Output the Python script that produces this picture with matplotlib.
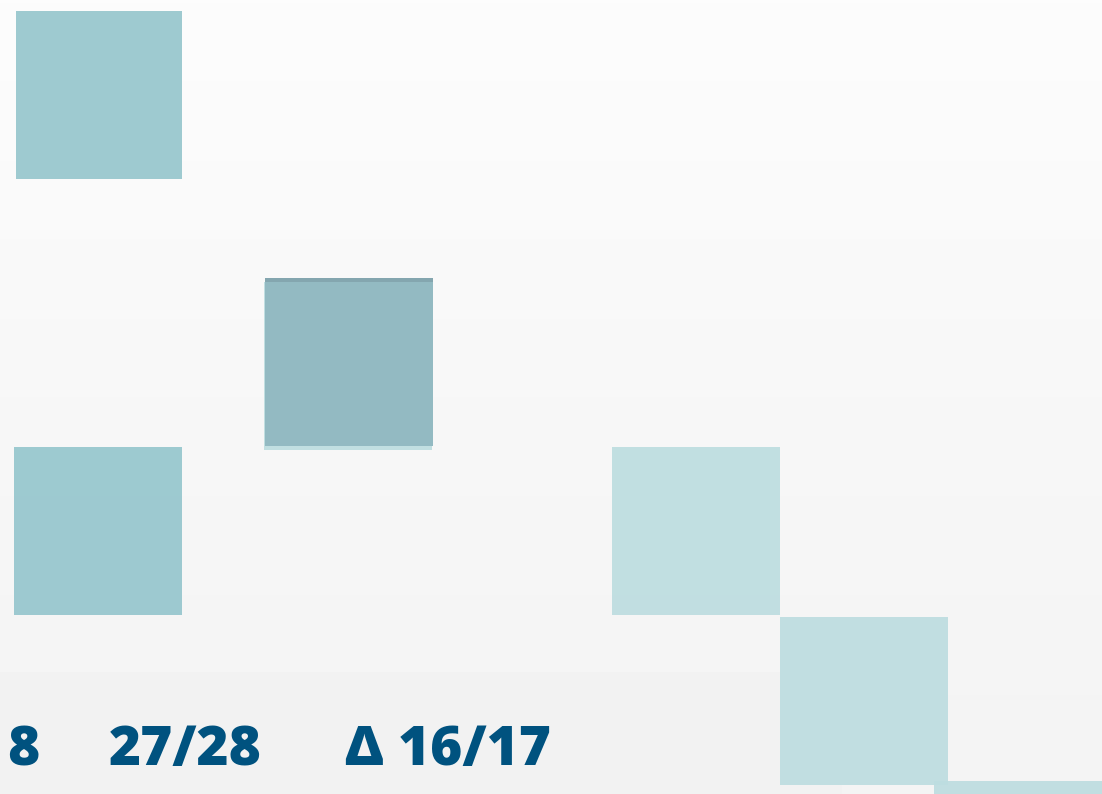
import numpy as np
import matplotlib
matplotlib.use("Agg")
import matplotlib.pyplot as plt
from matplotlib.patches import Rectangle
from matplotlib.colors import LinearSegmentedColormap

# ---- data (cropped calendar-style heatmap, pixel-space grid) ----
cell_x = [16, 264, 14, 612, 780, 934]
cell_y = [11, 282, 447, 447, 617, 781]
cell_w = [166, 168, 168, 168, 168, 168]
cell_level = [2, 1, 2, 1, 1, 1]
cell_highlight = [False, True, False, False, False, False]
cell_size = 168

labels = ["8", "27/28", "Δ 16/17"]
label_x = [7, 109, 345]
label_baseline = 765

level_colors = {1: "#bddde0", 2: "#96c6cd"}

W, H = 1102, 794
fig = plt.figure(figsize=(W / 100, H / 100), dpi=100)
ax = fig.add_axes([0, 0, 1, 1])
ax.set_xlim(0, W)
ax.set_ylim(H, 0)
ax.axis("off")

# background vertical gradient
bg_cmap = LinearSegmentedColormap.from_list("bg", ["#fdfdfd", "#f8f8f8", "#f4f4f4"])
grad = np.linspace(0, 1, 256).reshape(-1, 1)
ax.imshow(grad, cmap=bg_cmap, extent=[0, W, H, 0], aspect="auto", zorder=0)

# label band
ax.add_patch(Rectangle((0, 672), 842, H - 672, facecolor="#f2f2f2", edgecolor="none", zorder=1))

for x, y, w, lv, hl in zip(cell_x, cell_y, cell_w, cell_level, cell_highlight):
    ax.add_patch(Rectangle((x, y), w, cell_size, facecolor=level_colors[lv],
                           edgecolor="none", alpha=0.92, zorder=2))
    if hl:
        ax.add_patch(Rectangle((x + 1, y - 4), w, cell_size,
                               facecolor="#93bac2", edgecolor="none", zorder=3))
        ax.add_patch(Rectangle((x + 1, y - 4), w, 4,
                               facecolor="#84a6af", edgecolor="none", zorder=4))

for t, x in zip(labels, label_x):
    ax.text(x, label_baseline, t, fontsize=39.5, fontweight=800,
            family=["Open Sans", "DejaVu Sans"], color="#00527f",
            ha="left", va="baseline", zorder=5)

fig.savefig("out.png", dpi=100)
